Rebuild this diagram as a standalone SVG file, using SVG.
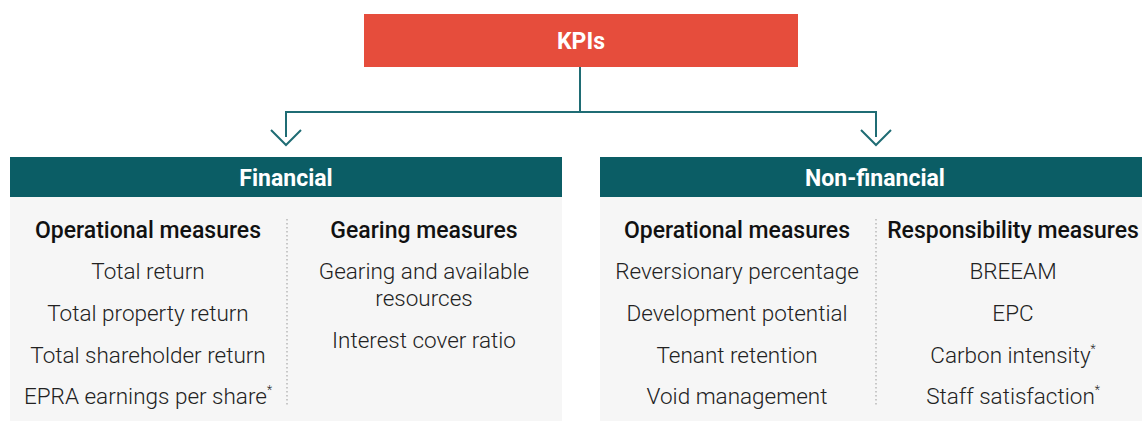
<svg xmlns="http://www.w3.org/2000/svg" width="1142" height="421" viewBox="0 0 1142 421">
<style>
.hdr{fill:#0B5D65}
.body{fill:#F6F6F6}
.ht{font-family:Roboto,"Liberation Sans",sans-serif;font-weight:700;font-size:23px;fill:#fff;text-anchor:middle}
.sub{font-family:Roboto,"Liberation Sans",sans-serif;font-weight:500;font-size:23px;fill:#111;text-anchor:middle}
.it{font-family:Roboto,"Liberation Sans",sans-serif;font-weight:300;font-size:22.5px;fill:#222;text-anchor:middle}
.sup{font-size:12px}
.div{stroke:#999;stroke-width:1;stroke-dasharray:1.5 2.5}
.con{stroke:#1F6C74;stroke-width:2;fill:none}
</style>
<g id="kpis">
<rect x="364" y="14" width="434" height="53" fill="#E64D3C"/>
<text class="ht" x="581" y="49">KPIs</text>
</g>
<g id="connectors">
<path class="con" d="M580 67V112H286V137M580 112H876V137"/>
<path class="con" d="M271 130L286 145L301 130M861 130L876 145L891 130"/>
</g>
<g id="financial">
<rect class="body" x="10" y="197" width="552" height="224"/>
<rect class="hdr" x="10" y="157" width="552" height="40"/>
<text class="ht" x="286" y="186">Financial</text>
<line class="div" x1="287" y1="219" x2="287" y2="406"/>
<text class="sub" x="148" y="238">Operational measures</text>
<text class="it" x="148" y="279">Total return</text>
<text class="it" x="148" y="321">Total property return</text>
<text class="it" x="148" y="363">Total shareholder return</text>
<text class="it" x="148" y="404">EPRA earnings per share<tspan class="sup" dy="-10">*</tspan></text>
<text class="sub" x="424" y="238">Gearing measures</text>
<text class="it" x="424" y="279">Gearing and available</text>
<text class="it" x="424" y="306">resources</text>
<text class="it" x="424" y="348">Interest cover ratio</text>
</g>
<g id="nonfinancial">
<rect class="body" x="600" y="197" width="542" height="224"/>
<rect class="hdr" x="600" y="157" width="542" height="40"/>
<text class="ht" x="875" y="186">Non-financial</text>
<line class="div" x1="876" y1="219" x2="876" y2="406"/>
<text class="sub" x="737" y="238">Operational measures</text>
<text class="it" x="737" y="279">Reversionary percentage</text>
<text class="it" x="737" y="321">Development potential</text>
<text class="it" x="737" y="363">Tenant retention</text>
<text class="it" x="737" y="404">Void management</text>
<text class="sub" x="1013" y="238">Responsibility measures</text>
<text class="it" x="1013" y="279">BREEAM</text>
<text class="it" x="1013" y="321">EPC</text>
<text class="it" x="1013" y="363">Carbon intensity<tspan class="sup" dy="-10">*</tspan></text>
<text class="it" x="1013" y="404">Staff satisfaction<tspan class="sup" dy="-10">*</tspan></text>
</g>
</svg>
